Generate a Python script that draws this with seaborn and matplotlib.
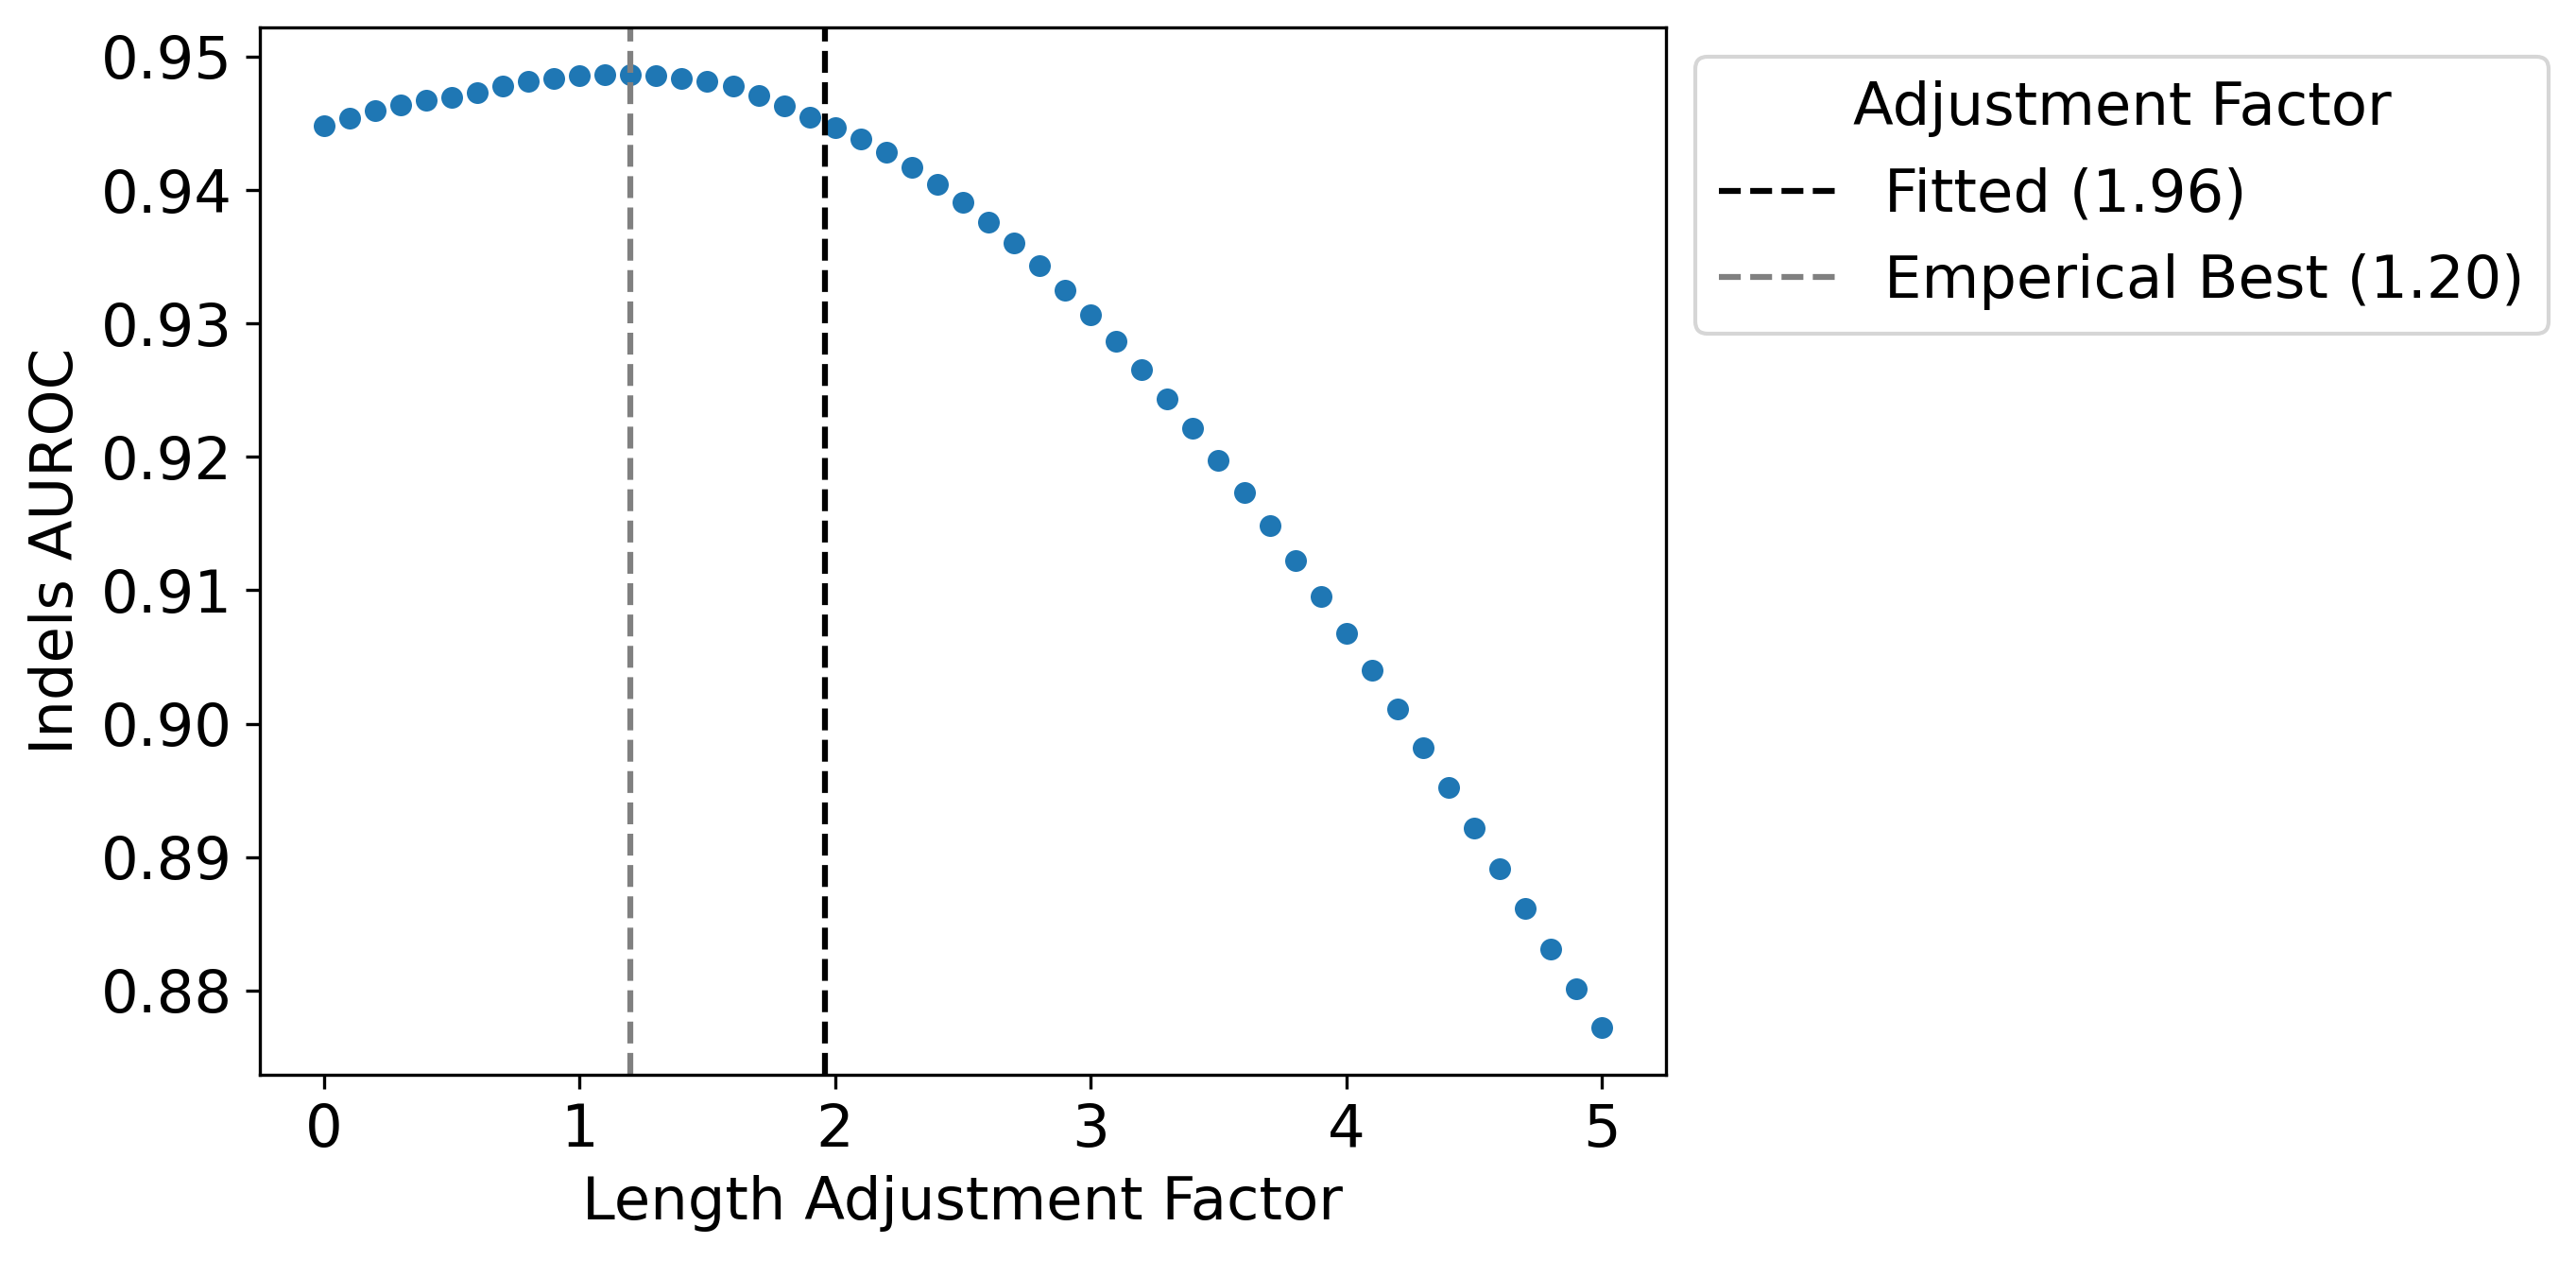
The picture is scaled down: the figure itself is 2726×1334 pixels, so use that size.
import numpy as np
import pandas as pd
import seaborn as sns
import matplotlib.pyplot as plt

plt.rcParams["font.size"] = 15

factors = [round(0.1 * i, 1) for i in range(51)]
auroc = [
    0.94481, 0.94537, 0.94594, 0.94636, 0.94672, 0.94693, 0.94729, 0.94778,
    0.94814, 0.94835, 0.94856, 0.94863, 0.94863, 0.94856, 0.94835, 0.94814,
    0.94778, 0.94707, 0.94629, 0.94544, 0.94466, 0.94381, 0.94282, 0.94169,
    0.94041, 0.93906, 0.93758, 0.93602, 0.93432, 0.93247, 0.93063, 0.92865,
    0.92652, 0.92432, 0.92213, 0.91972, 0.91731, 0.91483, 0.91222, 0.90953,
    0.90675, 0.90402, 0.90110, 0.89821, 0.89522, 0.89218, 0.88914, 0.88617,
    0.88313, 0.88014, 0.87725,
]

fitted = 1.96
emp_best = 1.20

df = pd.DataFrame({"factor": factors, "auroc": auroc})

fig, ax = plt.subplots(figsize=(2726 / 300, 1334 / 300), dpi=300)
fig.subplots_adjust(left=0.1009, right=0.6467, top=0.9783, bottom=0.1477)

sns.scatterplot(
    data=df,
    x="factor",
    y="auroc",
    ax=ax
)

ax.axvline(
    fitted,
    color="black",
    linestyle="--",
    label=f"Fitted ({fitted:.2f})"
)
ax.axvline(
    emp_best,
    color="gray",
    linestyle="--",
    label=f"Emperical Best ({emp_best:.2f})"
)

ax.set_xlabel("Length Adjustment Factor")
ax.set_ylabel("Indels AUROC")

ax.legend(
    title="Adjustment Factor",
    bbox_to_anchor=(1, 1),
    loc="upper left"
)

fig.savefig("out.png", dpi=300)
